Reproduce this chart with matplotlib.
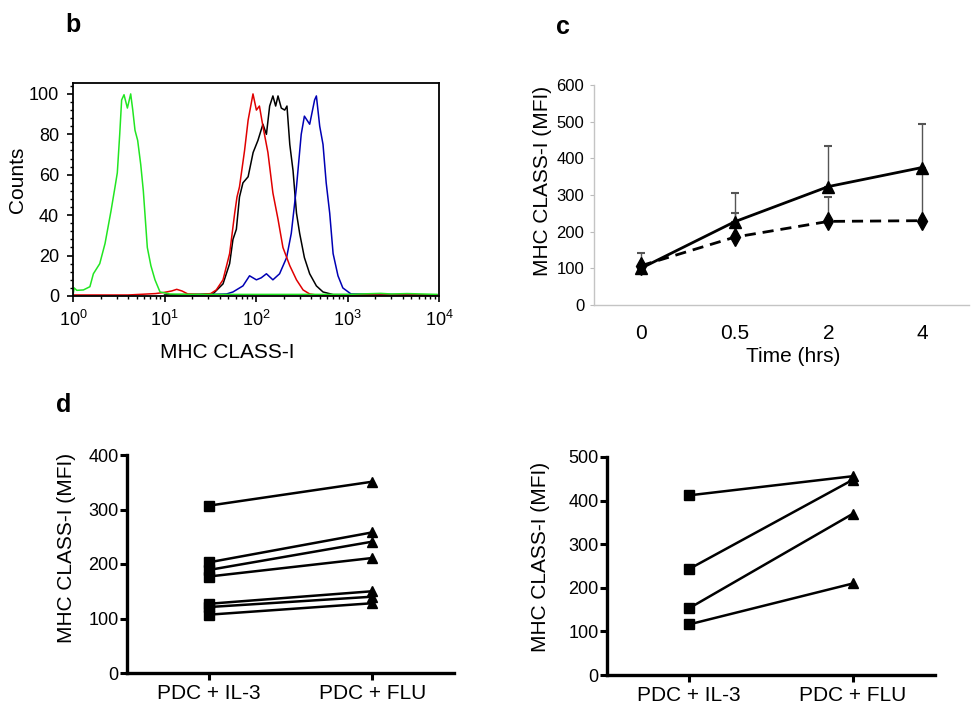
import numpy as np
import matplotlib
matplotlib.use("Agg")
import matplotlib.pyplot as plt
from matplotlib.ticker import LogLocator, MultipleLocator, NullFormatter

plt.rcParams['font.family'] = ['Liberation Sans', 'DejaVu Sans']

# panel b: flow histograms (MFI value, counts)
green_x = [1.0, 1.03, 1.10, 1.30, 1.53, 1.67, 1.96, 2.24, 2.60, 2.88, 3.05, 3.24, 3.40, 3.61, 3.93, 4.27,
           4.50, 4.76, 5.09, 5.50, 5.87, 6.49, 7.10, 7.87, 8.93, 11.4, 20, 100, 1000, 2300, 3000, 4500, 9500]
green_y = [0.5, 4, 2.8, 3, 4.6, 11, 16, 26, 42, 54, 61, 80, 97, 99.6, 93, 100,
           92, 82, 77, 65, 52, 24, 15, 8, 2, 1, 0.8, 0.8, 0.8, 1.3, 1.0, 1.2, 0.8]
red_x = [1.0, 4, 8, 10, 12, 13.6, 15.5, 18, 25, 32, 36.8, 43.6, 51.5, 58.5, 62, 66, 75, 82, 92.7,
         101, 109, 119, 135, 153, 174, 197, 234, 277, 327, 386, 457, 9500]
red_y = [0.5, 0.5, 1.2, 1.8, 2.5, 3.3, 2.5, 1.0, 0.7, 1.2, 3, 8, 21, 41, 49, 54, 72, 87, 100,
         92, 94, 84, 71, 51, 38, 24, 15, 8, 3, 1, 0.5, 0.5]
black_x = [10, 33.8, 43.6, 51.5, 56, 61, 66, 72, 82, 93, 105, 119, 130, 141, 153, 164, 174, 189,
           206, 218, 234, 254, 277, 300, 338, 386, 457, 540, 696, 9500]
black_y = [0.5, 1, 6, 16, 28, 33, 49, 56, 59, 71, 77, 85, 80, 94, 99, 94, 99, 93,
           92, 94, 75, 62, 41, 31, 19, 11, 5, 2, 0.7, 0.5]
blue_x = [20, 47.6, 56, 72, 85, 101, 114, 130, 153, 181, 216, 243, 277, 312, 338, 386, 437, 457,
          497, 540, 585, 639, 696, 787, 889, 1092, 9500]
blue_y = [0.5, 1, 2, 5, 10, 8, 9, 11, 8, 11, 19, 31, 54, 80, 89, 85, 97, 99,
          84, 75, 56, 41, 21, 10, 4, 1, 0.5]

# panel c: time course
times = ['0', '0.5', '2', '4']
flu_mean = [100, 227, 323, 375]
flu_err = [0, 78, 112, 0]
ctrl_mean = [107, 185, 228, 230]
ctrl_err = [35, 67, 67, 265]

# panel d: paired donors
groups = ['PDC + IL-3', 'PDC + FLU']
left_il3 = [307, 203, 189, 177, 127, 121, 107]
left_flu = [351, 258, 241, 211, 150, 140, 128]
right_il3 = [412, 243, 153, 116]
right_flu = [456, 448, 370, 210]

W, H = 980, 712
fig = plt.figure(figsize=(9.8, 7.12), dpi=100)


def box(l, t, r, b):
    return [l / W, 1 - b / H, (r - l) / W, (b - t) / H]


# ---- b ----
ax = fig.add_axes(box(73, 83, 439, 296))
ax.plot(black_x, black_y, color='black', lw=1.1)
ax.plot(blue_x, blue_y, color='#0000b4', lw=1.1)
ax.plot(red_x, red_y, color='#e00000', lw=1.1)
ax.plot(green_x, green_y, color='#22e622', lw=1.1)
ax.set_xscale('log')
ax.set_xlim(1, 1e4)
ax.set_ylim(0, 105.4)
ax.set_yticks([0, 20, 40, 60, 80, 100])
ax.yaxis.set_minor_locator(MultipleLocator(4))
ax.xaxis.set_major_locator(LogLocator(base=10, numticks=10))
ax.xaxis.set_minor_locator(LogLocator(base=10, subs=np.arange(2, 10), numticks=20))
ax.xaxis.set_minor_formatter(NullFormatter())
ax.tick_params(which='major', direction='out', length=4, width=1.2, labelsize=13, pad=6)
ax.tick_params(which='minor', direction='out', length=2.5, width=1)
for s in ax.spines.values():
    s.set_linewidth(1.3)
fig.text(18 / W, 1 - 180 / H, 'Counts', rotation=90, ha='center', va='center', fontsize=15)
fig.text(227 / W, 1 - 352 / H, 'MHC CLASS-I', ha='center', va='center', fontsize=15)
fig.text(73 / W, 1 - 25 / H, 'b', ha='center', va='center', fontsize=18, fontweight='bold')

# ---- c ----
ax = fig.add_axes(box(594, 85, 969, 305))
x = np.arange(len(times))
ax.errorbar(x, flu_mean, yerr=[np.zeros(4), flu_err], fmt='none', ecolor='#555555',
            elinewidth=1, capsize=3, capthick=1.5)
ax.errorbar(x, ctrl_mean, yerr=[np.zeros(4), ctrl_err], fmt='none', ecolor='#555555',
            elinewidth=1, capsize=3, capthick=1.5)
ax.plot(x, flu_mean, color='black', lw=2, marker='^', ms=9)
ax.plot(x, ctrl_mean, color='black', lw=2, ls=(0, (4, 2.5)), marker='d', ms=9)
ax.set_xlim(-0.5, 3.5)
ax.set_ylim(0, 600)
ax.set_xticks(x)
ax.set_xticklabels(times, fontsize=15)
ax.set_yticks(range(0, 601, 100))
ax.set_yticklabels([str(v) for v in range(0, 601, 100)],
                   family=['Liberation Sans Narrow', 'Liberation Sans'], fontsize=12)
ax.tick_params(axis='x', length=0, pad=14)
ax.tick_params(axis='y', length=3, color='#bbbbbb', pad=4)
for k in ['top', 'right']:
    ax.spines[k].set_visible(False)
for k in ['left', 'bottom']:
    ax.spines[k].set_color('#c4c4c4')
    ax.spines[k].set_linewidth(1)
fig.text(542 / W, 1 - 181 / H, 'MHC CLASS-I (MFI)', rotation=90, ha='center', va='center', fontsize=15)
fig.text(793 / W, 1 - 356 / H, 'Time (hrs)', ha='center', va='center', fontsize=15)
fig.text(563 / W, 1 - 27 / H, 'c', ha='center', va='center', fontsize=18, fontweight='bold')


# ---- d ----
def paired(ax, a, b, top):
    for u, v in zip(a, b):
        ax.plot([0, 1], [u, v], color='black', lw=1.8)
    ax.plot([0] * len(a), a, 's', color='black', ms=7)
    ax.plot([1] * len(b), b, '^', color='black', ms=7)
    ax.set_xlim(-0.5, 1.5)
    ax.set_ylim(0, top)
    ax.set_yticks(range(0, top + 1, 100))
    ax.set_xticks([0, 1])
    ax.set_xticklabels(groups, fontsize=15)
    ax.tick_params(axis='y', labelsize=13, length=5, width=2.2, pad=1)
    ax.tick_params(axis='x', length=5, width=2.2, pad=3)
    for k in ['top', 'right']:
        ax.spines[k].set_visible(False)
    for k in ['left', 'bottom']:
        ax.spines[k].set_linewidth(2.4)


ax = fig.add_axes(box(127, 455, 454, 673))
paired(ax, left_il3, left_flu, 400)
fig.text(66 / W, 1 - 548 / H, 'MHC CLASS-I (MFI)', rotation=90, ha='center', va='center', fontsize=15)
fig.text(64 / W, 1 - 405 / H, 'd', ha='center', va='center', fontsize=18, fontweight='bold')

ax = fig.add_axes(box(607, 457, 935, 675))
paired(ax, right_il3, right_flu, 500)
fig.text(540 / W, 1 - 557 / H, 'MHC CLASS-I (MFI)', rotation=90, ha='center', va='center', fontsize=15)

fig.savefig('out.png', dpi=100)
